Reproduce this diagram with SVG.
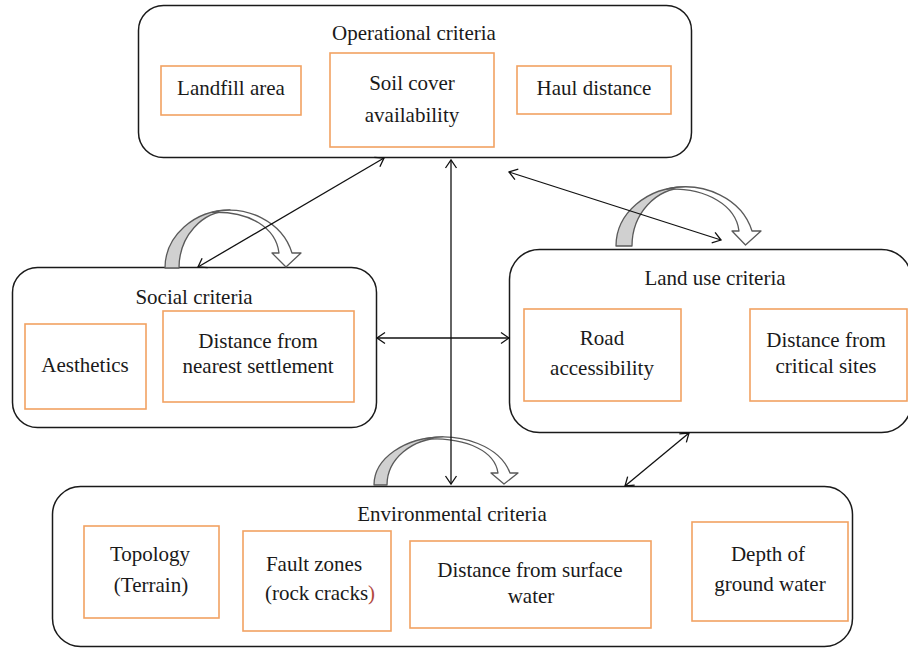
<svg xmlns="http://www.w3.org/2000/svg" width="908" height="648" viewBox="0 0 908 648">
  <style>
    .group { fill: #ffffff; stroke: #1a1a1a; stroke-width: 1.5; }
    .item { fill: #ffffff; stroke: #f2a262; stroke-width: 1.6; }
    text { font-family: "Liberation Serif", "Times New Roman", serif; font-size: 21px; fill: #1a1a1a; text-anchor: middle; }
    .link { fill: none; stroke: #111111; stroke-width: 1.3; marker-start: url(#tip); marker-end: url(#tip); }
    .back { fill: #d0d0d0; stroke: #5a5a5a; stroke-width: 1.3; stroke-linejoin: round; }
    .front { fill: #ffffff; stroke: #5a5a5a; stroke-width: 1.3; stroke-linejoin: round; }
  </style>
  <defs>
    <marker id="tip" viewBox="-10 -7 12 14" markerWidth="12" markerHeight="14" refX="0" refY="0" orient="auto-start-reverse" markerUnits="userSpaceOnUse">
      <path d="M-8,-5.5 L0,0 L-8,5.5" fill="none" stroke="#111111" stroke-width="1.3"/>
    </marker>
  </defs>

  <rect width="908" height="648" fill="#ffffff"/>

  <!-- Operational criteria -->
  <g id="operational">
    <rect class="group" x="138.5" y="5.5" width="553" height="152" rx="25"/>
    <text x="414" y="40">Operational criteria</text>
    <g id="landfill-area">
      <rect class="item" x="161" y="66" width="140" height="49"/>
      <text x="231" y="95">Landfill area</text>
    </g>
    <g id="soil-cover">
      <rect class="item" x="330" y="53" width="164" height="94"/>
      <text x="412" y="90">Soil cover</text>
      <text x="412" y="122">availability</text>
    </g>
    <g id="haul-distance">
      <rect class="item" x="517" y="66" width="154" height="48"/>
      <text x="594" y="95">Haul distance</text>
    </g>
  </g>

  <!-- Social criteria -->
  <g id="social">
    <rect class="group" x="12.5" y="267.5" width="364" height="160" rx="25"/>
    <text x="194" y="304">Social criteria</text>
    <g id="aesthetics">
      <rect class="item" x="25" y="324" width="121" height="85"/>
      <text x="85" y="372">Aesthetics</text>
    </g>
    <g id="settlement">
      <rect class="item" x="163" y="311" width="191" height="91"/>
      <text x="258" y="348">Distance from</text>
      <text x="258" y="373">nearest settlement</text>
    </g>
  </g>

  <!-- Land use criteria -->
  <g id="landuse">
    <rect class="group" x="509.5" y="249.5" width="402" height="183" rx="30"/>
    <text x="715" y="285">Land use criteria</text>
    <g id="road">
      <rect class="item" x="524" y="309" width="157" height="92"/>
      <text x="602" y="345">Road</text>
      <text x="602" y="375">accessibility</text>
    </g>
    <g id="critical-sites">
      <rect class="item" x="750" y="309" width="157" height="92"/>
      <text x="826" y="347">Distance from</text>
      <text x="826" y="373">critical sites</text>
    </g>
  </g>

  <!-- Environmental criteria -->
  <g id="environmental">
    <rect class="group" x="52.5" y="486.5" width="800" height="160" rx="28"/>
    <text x="452" y="521">Environmental criteria</text>
    <g id="topology">
      <rect class="item" x="84" y="526" width="135" height="92"/>
      <text x="150" y="561">Topology</text>
      <text x="151" y="592">(Terrain)</text>
    </g>
    <g id="fault-zones">
      <rect class="item" x="243" y="531" width="148" height="100"/>
      <text x="314" y="571">Fault zones</text>
      <text x="320" y="600">(rock cracks<tspan fill="#b24a3e">)</tspan></text>
    </g>
    <g id="surface-water">
      <rect class="item" x="410" y="541" width="241" height="87"/>
      <text x="530" y="577">Distance from surface</text>
      <text x="531" y="603">water</text>
    </g>
    <g id="ground-water">
      <rect class="item" x="692" y="522" width="156" height="99"/>
      <text x="768" y="561">Depth of</text>
      <text x="770" y="591">ground water</text>
    </g>
  </g>

  <!-- curved feedback arrows above each lower group -->
  <g id="feedback">
    <path class="back" d="M165,268 A65,58 0 0 1 230,210 L230,211 A51,57 0 0 0 179,268 Z"/>
    <path class="front" d="M212,212.3 A65,58 0 0 1 292,253 L301,253 L286,267 L272,253 L279,253 C276,228 250,211 212,212.3 Z"/>

    <path class="back" d="M616,246 A69,59 0 0 1 685,187 L685,188 A53,58 0 0 0 632,246 Z"/>
    <path class="front" d="M667,189 A69,59 0 0 1 752,231 L761,231 L745.5,245 L732,231 L739,231 C736,206 708,188 667,189 Z"/>

    <path class="back" d="M374,485 A69,48 0 0 1 443,437 L443,438 A56,47 0 0 0 387,485 Z"/>
    <path class="front" d="M425,438.7 A69,48 0 0 1 510,473 L518,473 L504,484 L491,473 L498,473 C495,452 470,438 425,438.7 Z"/>
  </g>

  <!-- two-way connectors -->
  <g id="connectors">
    <line class="link" x1="384" y1="158" x2="198" y2="267"/>
    <line class="link" x1="451" y1="160" x2="451" y2="484"/>
    <line class="link" x1="509" y1="172" x2="721" y2="240"/>
    <line class="link" x1="377" y1="338" x2="509" y2="338"/>
    <line class="link" x1="689" y1="433" x2="625" y2="486"/>
  </g>
</svg>
